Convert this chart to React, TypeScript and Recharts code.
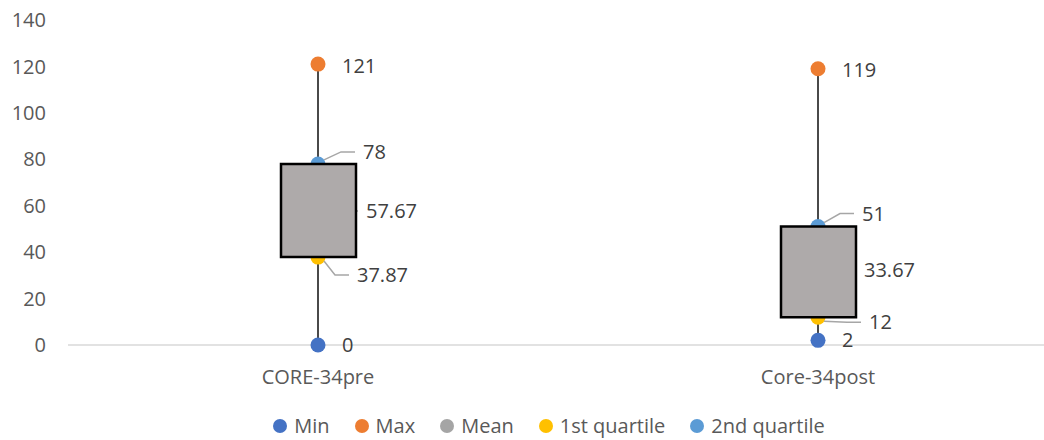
import { ComposedChart, Bar, Scatter, XAxis, YAxis, Legend } from 'recharts'

const categories = ['CORE-34pre', 'Core-34post']
const minValues = [0, 2]
const maxValues = [121, 119]
const meanValues = [57.67, 33.67]
const q1Values = [37.87, 12]
const q3Values = [78, 51]
const yTicks = [0, 20, 40, 60, 80, 100, 120, 140]

const FONT = '"Open Sans", sans-serif'
const TEXT = '#404040'
const AXIS_TEXT = '#595959'
const LEADER = '#A6A6A6'

type Placement = { dx: number; dy: number; leader: boolean }

// where each value label sits relative to its marker, one entry per category
const labelPlacement: Record<string, Placement[]> = {
  min: [
    { dx: 24, dy: 0, leader: false },
    { dx: 24, dy: 0, leader: false },
  ],
  max: [
    { dx: 24, dy: 2, leader: false },
    { dx: 24, dy: 1, leader: false },
  ],
  mean: [
    { dx: 48, dy: 0, leader: true },
    { dx: 46, dy: 3, leader: false },
  ],
  q1: [
    { dx: 39, dy: 18, leader: true },
    { dx: 51, dy: 5, leader: true },
  ],
  q3: [
    { dx: 45, dy: -12, leader: true },
    { dx: 44, dy: -13, leader: true },
  ],
}

const series = [
  { key: 'min', name: 'Min', color: '#4472C4' },
  { key: 'max', name: 'Max', color: '#ED7D31' },
  { key: 'mean', name: 'Mean', color: '#A5A5A5' },
  { key: 'q1', name: '1st quartile', color: '#FFC000' },
  { key: 'q3', name: '2nd quartile', color: '#5B9BD5' },
]

const data = categories.map((name, i) => ({
  x: i,
  name,
  min: minValues[i],
  max: maxValues[i],
  mean: meanValues[i],
  q1: q1Values[i],
  q3: q3Values[i],
  box: [q1Values[i], q3Values[i]],
  whisker: [minValues[i], maxValues[i]],
}))

function markerWithLabel(key: string, color: string) {
  return (props: any) => {
    const { cx, cy, payload } = props
    const p = labelPlacement[key][payload.x]
    const tx = cx + p.dx
    const ty = cy + p.dy
    const dir = p.dy === 0 ? 0 : p.dy > 0 ? 1 : -1
    return (
      <g>
        <circle cx={cx} cy={cy} r={7.5} fill={color} />
        {p.leader && (
          <polyline
            points={`${cx + 6},${cy + dir * 4} ${tx - 22},${ty} ${tx - 8},${ty}`}
            fill="none"
            stroke={LEADER}
            strokeWidth={1.5}
          />
        )}
        <text x={tx} y={ty} dy="0.35em" fill={TEXT} fontSize={20} fontFamily={FONT}>
          {String(payload[key])}
        </text>
      </g>
    )
  }
}

function LegendRow() {
  return (
    <div
      style={{
        display: 'flex',
        justifyContent: 'center',
        alignItems: 'center',
        paddingLeft: 54,
        paddingTop: 1,
        fontFamily: FONT,
        fontSize: 20,
        color: AXIS_TEXT,
        lineHeight: '26px',
      }}
    >
      {series.map((s, i) => (
        <div
          key={s.key}
          style={{ display: 'flex', alignItems: 'center', marginLeft: i === 0 ? 0 : 25 }}
        >
          <span
            style={{
              width: 14,
              height: 14,
              borderRadius: 7,
              background: s.color,
              marginRight: 7,
              display: 'inline-block',
            }}
          />
          <span>{s.name}</span>
        </div>
      ))}
    </div>
  )
}

export default function App() {
  return (
    <div style={{ position: 'absolute', left: 0, top: 0 }}>
      <ComposedChart
        width={1044}
        height={440}
        data={data}
        margin={{ top: 20, right: 0, bottom: 2, left: 0 }}
        style={{ fontFamily: FONT }}
      >
        <XAxis
          xAxisId="main"
          type="number"
          dataKey="x"
          domain={[-0.5, 1.452]}
          ticks={[0, 1]}
          allowDataOverflow
          tickFormatter={(v) => categories[v] ?? ''}
          stroke="#D9D9D9"
          strokeWidth={1.5}
          tickLine={false}
          tickMargin={19}
          height={67}
          tick={{ fontSize: 20, fill: AXIS_TEXT }}
        />
        <XAxis
          xAxisId="whisker"
          type="number"
          dataKey="x"
          domain={[-0.5, 1.452]}
          allowDataOverflow
          hide
        />
        <YAxis
          domain={[0, 140]}
          ticks={yTicks}
          axisLine={false}
          tickLine={false}
          width={68}
          tickMargin={16}
          tick={{ fontSize: 20, fill: AXIS_TEXT }}
        />
        <Bar
          xAxisId="whisker"
          dataKey="whisker"
          barSize={2}
          fill="#4A4A4A"
          legendType="none"
          isAnimationActive={false}
        />
        {series.map((s) => (
          <Scatter
            key={s.key}
            xAxisId="main"
            name={s.name}
            dataKey={s.key}
            fill={s.color}
            legendType="circle"
            shape={markerWithLabel(s.key, s.color)}
            isAnimationActive={false}
          />
        ))}
        <Bar
          xAxisId="main"
          dataKey="box"
          barSize={75}
          fill="#AEAAAA"
          stroke="#000000"
          strokeWidth={2.5}
          legendType="none"
          zIndex={650}
          isAnimationActive={false}
        />
        <Legend verticalAlign="bottom" height={26} content={() => <LegendRow />} />
      </ComposedChart>
    </div>
  )
}
